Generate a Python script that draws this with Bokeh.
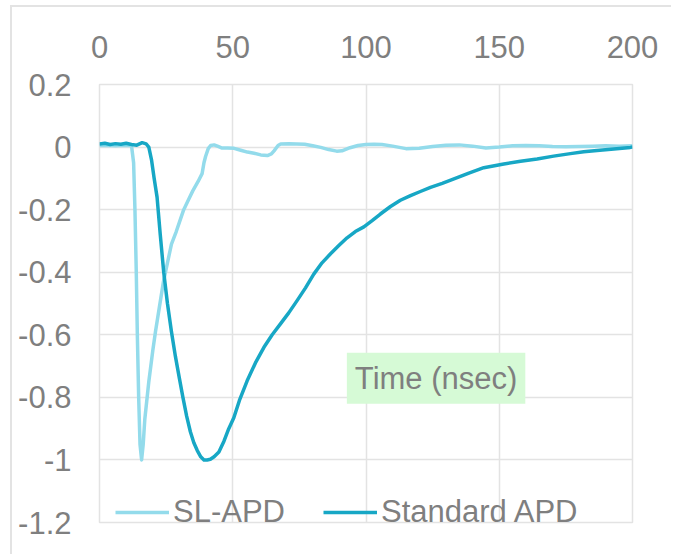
from bokeh.plotting import figure
from bokeh.models import FixedTicker, LinearAxis, Range1d, Legend, LegendItem, Label
from bokeh.embed import file_html
from bokeh.resources import INLINE

# Detector response vs. time (normalised amplitude)
sl_time = [0, 3, 6, 9, 12, 12.8, 13.3, 13.8, 14.2, 14.7, 15.2, 15.8, 16.4, 17.0,
           18.5, 20.0, 21.0, 22.5, 24.0, 25.5, 27.0, 28.8, 30.0, 31.6, 33.3, 35.0,
           37.0, 38.5, 39.2, 39.8, 40.8, 41.7, 43.0, 44.5, 46.0, 48.0, 50.5, 53.0,
           55.5, 58.0, 60.5, 63.0, 64.5, 65.5, 67.0, 68.0, 71.0, 74.0, 77.0, 80.0,
           83.0, 86.0, 89.0, 91.0, 94.0, 97.0, 100.0, 103.0, 106.0, 110.0, 115.0,
           120.0, 125.0, 130.0, 135.0, 140.0, 145.0, 150.0, 155.0, 160.0, 165.0,
           170.0, 175.0, 180.0, 185.0, 190.0, 195.0, 200.0]
sl_apd = [0.005, 0.006, 0.004, 0.006, 0.005, -0.05, -0.2, -0.4, -0.6, -0.8, -0.95,
          -1.0, -0.95, -0.87, -0.75, -0.65, -0.59, -0.51, -0.43, -0.37, -0.31,
          -0.27, -0.24, -0.20, -0.17, -0.14, -0.11, -0.085, -0.05, -0.03, -0.005,
          0.005, 0.007, 0.002, -0.003, -0.003, -0.004, -0.010, -0.016, -0.020,
          -0.025, -0.027, -0.022, -0.012, 0.005, 0.010, 0.011, 0.010, 0.009, 0.004,
          -0.001, -0.008, -0.013, -0.012, -0.002, 0.005, 0.008, 0.009, 0.008, 0.003,
          -0.005, -0.004, 0.002, 0.006, 0.007, 0.003, -0.003, 0.000, 0.004, 0.005,
          0.004, 0.002, 0.001, 0.002, 0.003, 0.004, 0.003, 0.004]

std_time = [0, 2, 4, 6, 8, 10, 12, 14, 16, 17.5, 18.5, 19.5, 20.5, 21.6, 22.8, 24.1,
            25.5, 27.0, 28.5, 30.0, 31.3, 32.7, 34.1, 35.4, 36.7, 38.0, 39.2, 40.4,
            41.6, 43.0, 44.8, 46.7, 48.5, 50.4, 52.5, 55.4, 58.5, 61.7, 64.8, 67.9,
            71.0, 74.2, 77.3, 80.4, 83.5, 86.7, 89.8, 92.9, 96.0, 99.2, 102.3, 105.4,
            109.2, 112.9, 116.7, 120.4, 124.2, 128.6, 133.0, 138.6, 144.2, 151.7,
            158.0, 164.2, 170.4, 176.7, 181.7, 186.7, 193.0, 199.2, 200]
std_apd = [0.01, 0.012, 0.008, 0.011, 0.009, 0.012, 0.008, 0.006, 0.014, 0.01, 0.0,
           -0.04, -0.10, -0.16, -0.28, -0.40, -0.50, -0.59, -0.67, -0.74, -0.80,
           -0.86, -0.91, -0.945, -0.97, -0.99, -1.0, -1.0, -0.998, -0.99, -0.975,
           -0.94, -0.90, -0.865, -0.81, -0.747, -0.69, -0.64, -0.60, -0.565, -0.53,
           -0.49, -0.45, -0.406, -0.37, -0.341, -0.315, -0.29, -0.27, -0.255,
           -0.235, -0.214, -0.19, -0.17, -0.155, -0.142, -0.129, -0.116, -0.102,
           -0.083, -0.066, -0.054, -0.045, -0.038, -0.029, -0.021, -0.015, -0.011,
           -0.006, -0.001, 0.0]

x_ticks = [0, 50, 100, 150, 200]
y_ticks = [0.2, 0, -0.2, -0.4, -0.6, -0.8, -1, -1.2]
y_tick_labels = ["0.2", "0", "-0.2", "-0.4", "-0.6", "-0.8", "-1", "-1.2"]

FONT = "Liberation Sans"
TEXT = "#7f7f7f"
GRID = "#e3e3e3"
LIGHT = "#93dbeb"
DARK = "#17a7c5"
FS = "31px"

p = figure(width=661, height=549, output_backend="svg", toolbar_location=None,
           x_range=Range1d(0, 200), y_range=Range1d(-1.2, 0.2),
           x_axis_location=None, y_axis_location=None,
           min_border_left=87, min_border_right=41, min_border_top=77,
           min_border_bottom=34)
p.background_fill_color = "white"
p.border_fill_color = "white"
p.outline_line_color = GRID
p.outline_line_width = 1.5
# light chart border on the left and top edges
p.margin = (5, 0, 0, 10)
p.styles = {"border-left": "2px solid #e3e3e3", "border-top": "2px solid #e3e3e3"}

def style_axis(ax):
    ax.axis_line_color = None
    ax.major_tick_line_color = None
    ax.minor_tick_line_color = None
    ax.major_tick_out = 0
    ax.major_tick_in = 0
    ax.major_label_text_font = FONT
    ax.major_label_text_font_size = FS
    ax.major_label_text_color = TEXT

xaxis = LinearAxis(ticker=FixedTicker(ticks=x_ticks))
style_axis(xaxis)
xaxis.major_label_standoff = 27
p.add_layout(xaxis, "above")

yaxis = LinearAxis(ticker=FixedTicker(ticks=y_ticks))
style_axis(yaxis)
yaxis.major_label_standoff = 28
yaxis.major_label_overrides = dict(zip(y_ticks, y_tick_labels))
p.add_layout(yaxis, "left")

p.xgrid.ticker = FixedTicker(ticks=x_ticks)
p.ygrid.ticker = FixedTicker(ticks=y_ticks)
for g in (p.xgrid, p.ygrid):
    g.grid_line_color = GRID
    g.grid_line_width = 1.5

r_sl = p.line(sl_time, sl_apd, line_color=LIGHT, line_width=3.5, line_join="round")
r_std = p.line(std_time, std_apd, line_color=DARK, line_width=3.5, line_join="round")

legend = Legend(items=[LegendItem(label="SL-APD", renderers=[r_sl]),
                       LegendItem(label="Standard APD", renderers=[r_std])],
                orientation="horizontal", location=(16, -8),
                padding=0, margin=0, spacing=38, label_standoff=4,
                glyph_width=54, glyph_height=30,
                border_line_color=None, background_fill_alpha=0,
                label_text_font=FONT, label_text_font_size=FS,
                label_text_color=TEXT)
p.add_layout(legend, "center")

title = Label(x=126.3, y=-0.739, text="Time (nsec)", text_align="center",
              text_baseline="middle", text_font=FONT, text_font_size=FS,
              text_color=TEXT, background_fill_color="#d6fad6", padding=8)
p.add_layout(title)

open("out.html", "w").write(file_html(p, INLINE))
